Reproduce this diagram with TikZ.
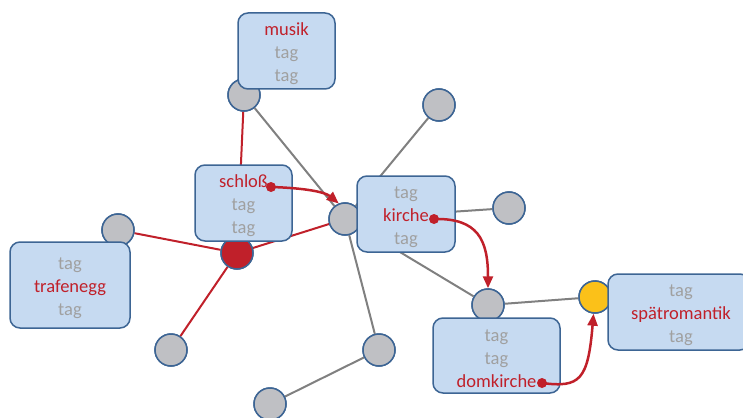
\documentclass[tikz,border=0pt]{standalone}
\usepackage{fontspec}
\setmainfont{Carlito}
\usetikzlibrary{arrows.meta}
\definecolor{boxfill}{HTML}{C6DAF1}
\definecolor{boxline}{HTML}{3D6594}
\definecolor{dotgray}{HTML}{BFC0C4}
\definecolor{hired}{HTML}{C0202A}
\definecolor{hiyellow}{HTML}{FBC119}
\definecolor{edgegray}{HTML}{808080}
\definecolor{taggray}{HTML}{A0A0A0}
\newcommand\tg{\textcolor{taggray}{tag}}
\newcommand\hl[1]{\textcolor{hired}{#1}}
\tikzset{
  x=1pt, y=-1pt,
  tagbox/.style={draw=boxline, line width=1.5pt, fill=boxfill, rounded corners=10pt, inner sep=0pt},
  taglines/.style={label={[align=center, inner sep=0pt, yshift=-3pt,
    font=\fontsize{18.5}{23}\selectfont]center:#1}},
  hub/.style={circle, draw=boxline, line width=1.5pt, fill=dotgray, minimum size=32pt, inner sep=0pt},
  grayedge/.style={draw=edgegray, line width=2pt},
  rededge/.style={draw=hired, line width=2pt},
  flow/.style={draw=hired, line width=2.5pt, -{Triangle[length=12pt,width=10pt]}},
  startdot/.style={circle, fill=hired, minimum size=10pt, inner sep=0pt},
}
\begin{document}
\begin{tikzpicture}
\useasboundingbox (0,0) rectangle (743,417);
\clip (0,0) rectangle (743,417);

% hubs
\node[hub] (cmusik) at (244,95) {};
\node[hub, fill=hired] (cschloss) at (237,253) {};
\node[hub] (ckirche) at (345,219) {};
\node[hub] (cdom) at (488,305) {};
\node[hub, fill=hiyellow] (cspaet) at (595,297) {};
\node[hub] (ctraf) at (118,230) {};
\node[hub] (n1) at (439,105) {};
\node[hub] (n2) at (509,208) {};
\node[hub] (n3) at (171,350) {};
\node[hub] (n4) at (379,350) {};
\node[hub] (n5) at (270,404) {};

% plain connections
\path[grayedge] (cmusik) -- (ckirche);
\path[grayedge] (n1) -- (ckirche);
\path[grayedge] (n2) -- (ckirche);
\path[grayedge] (ckirche) -- (n4);
\path[grayedge] (ckirche) -- (cdom);
\path[grayedge] (cdom) -- (cspaet);
\path[grayedge] (n4) -- (n5);
\path[rededge] (cmusik) -- (cschloss);
\path[rededge] (ctraf) -- (cschloss);
\path[rededge] (cschloss) -- (n3);
\path[rededge] (cschloss) -- (ckirche);

% redraw hubs above the connections
\foreach \n/\c in {cmusik/dotgray, cschloss/hired, ckirche/dotgray, cdom/dotgray, cspaet/hiyellow,
  ctraf/dotgray, n1/dotgray, n2/dotgray, n3/dotgray, n4/dotgray, n5/dotgray}
  \fill[\c, draw=boxline, line width=1.5pt] (\n.center) circle (16pt);

% tag boxes
\node[tagbox, minimum width=97pt, minimum height=76pt,
  taglines={\hl{musik}\\\tg\\\tg}] (musik) at (286.5,51) {};
\node[tagbox, minimum width=97pt, minimum height=76pt,
  taglines={\hl{schloß}\\\tg\\\tg}] (schloss) at (243.5,203) {};
\node[tagbox, minimum width=98pt, minimum height=76pt,
  taglines={\tg\\\hl{kirche}\\\tg}] (kirche) at (406,214) {};
\node[tagbox, minimum width=120pt, minimum height=86pt,
  taglines={\tg\\\hl{trafenegg}\\\tg}] (trafenegg) at (70,285) {};
\node[tagbox, minimum width=127pt, minimum height=75pt,
  taglines={\tg\\\tg\\\hl{domkirche}}] (domkirche) at (496.5,355.5) {};
\node[tagbox, minimum width=142pt, minimum height=76pt] (spaet) at (679,312) {};
\node[align=center, inner sep=0pt, font=\fontsize{18.5}{23}\selectfont]
  (spaettext) at ([yshift=-3pt]681,312) {\tg\\\hl{spätromantik}\\\tg};

% highlighted path
\node[startdot] (d1) at (271,187) {};
\node[startdot] (d2) at (434,219) {};
\node[startdot] (d3) at (542,383) {};
\draw[flow] (d1.center) .. controls (305,188) and (325,192) .. (ckirche.112);
\draw[flow] (d2.center) .. controls (478,218) and (488,240) .. (cdom.north);
\draw[flow] (d3.center) .. controls (580,388) and (588,380) .. (cspaet.-95);
\end{tikzpicture}
\end{document}
